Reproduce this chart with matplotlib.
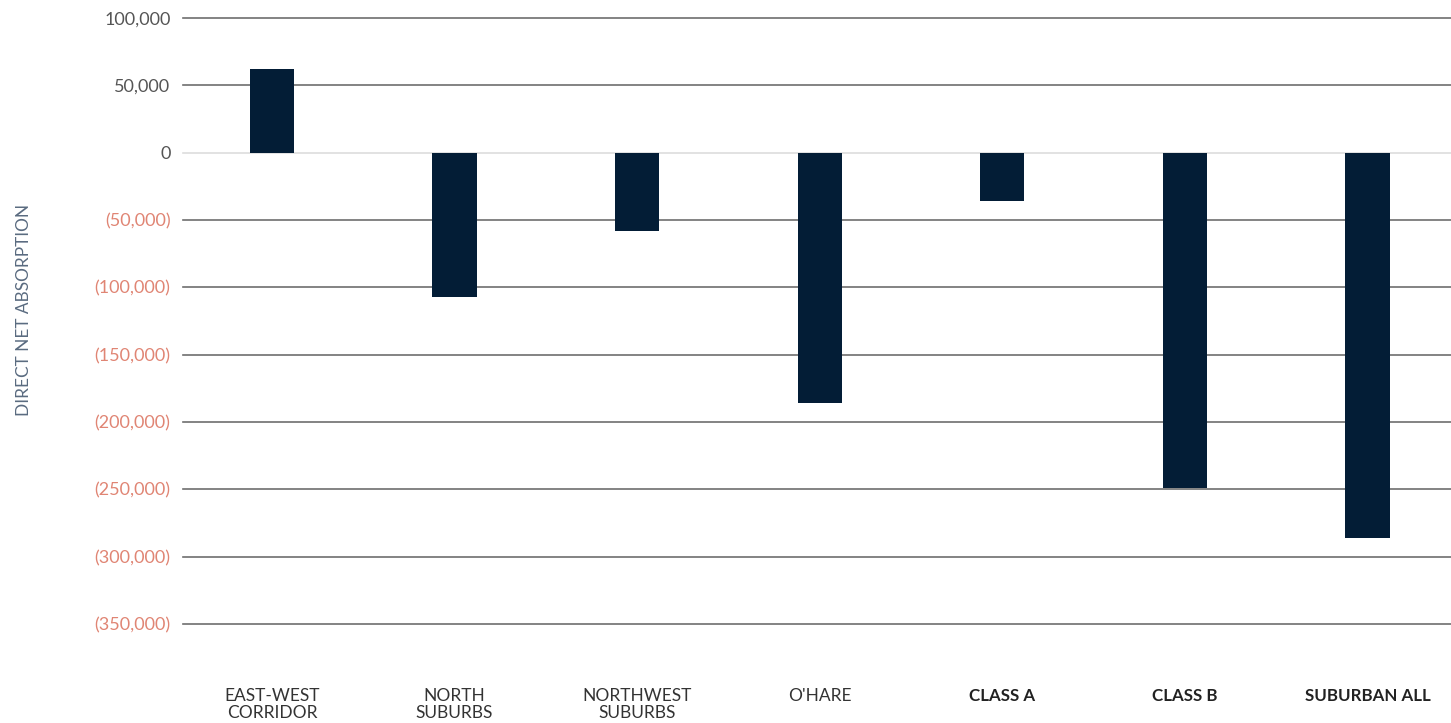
import matplotlib
matplotlib.use("Agg")
import matplotlib.pyplot as plt

categories = ["EAST-WEST\nCORRIDOR", "NORTH\nSUBURBS", "NORTHWEST\nSUBURBS", "O'HARE",
              "CLASS A", "CLASS B", "SUBURBAN ALL"]
bold_flags = [False, False, False, False, True, True, True]
values = [62000, -107000, -58000, -186000, -36000, -249000, -286000]
yticks = [100000, 50000, 0, -50000, -100000, -150000, -200000, -250000, -300000, -350000]

plt.rcParams['font.family'] = ['Lato', 'DejaVu Sans']

fig = plt.figure(figsize=(14.51, 7.23), dpi=100)
ax = fig.add_axes([183/1451, (723-624)/723, 1268/1451, 606/723])

x = list(range(len(categories)))
ax.bar(x, values, width=0.242, color="#031D36", zorder=3)

ax.set_xlim(-0.487, 6.457)
ax.set_ylim(-350000, 100000)
ax.set_yticks(yticks)
labels = []
for v in yticks:
    if v < 0:
        labels.append("({:,})".format(-v))
    else:
        labels.append("{:,}".format(v))
ax.set_yticklabels(labels)
for lab, v in zip(ax.get_yticklabels(), yticks):
    lab.set_color("#E08574" if v < 0 else "#555555")
    lab.set_fontsize(13)

for v in yticks:
    ax.axhline(v, color="#DDDDDD" if v == 0 else "#6E6E6E", lw=1.2,
               zorder=1, clip_on=False)

ax.set_xticks(x)
ax.set_xticklabels(categories, linespacing=1.05)
for lab, b in zip(ax.get_xticklabels(), bold_flags):
    lab.set_fontweight("bold" if b else "normal")
    lab.set_fontsize(12.2 if b else 12.5)
    lab.set_color("#222222" if b else "#333333")
    lab.set_verticalalignment("top")

ax.tick_params(axis="x", length=0, pad=46)
ax.tick_params(axis="y", length=0, pad=9)
for s in ax.spines.values():
    s.set_visible(False)
ax.grid(False)

fig.text(24/1451, 1 - 310/723, "DIRECT NET ABSORPTION", rotation=90, ha="center", va="center",
         color="#5A6B80", fontsize=12.4)

fig.savefig("out.png", dpi=100)
